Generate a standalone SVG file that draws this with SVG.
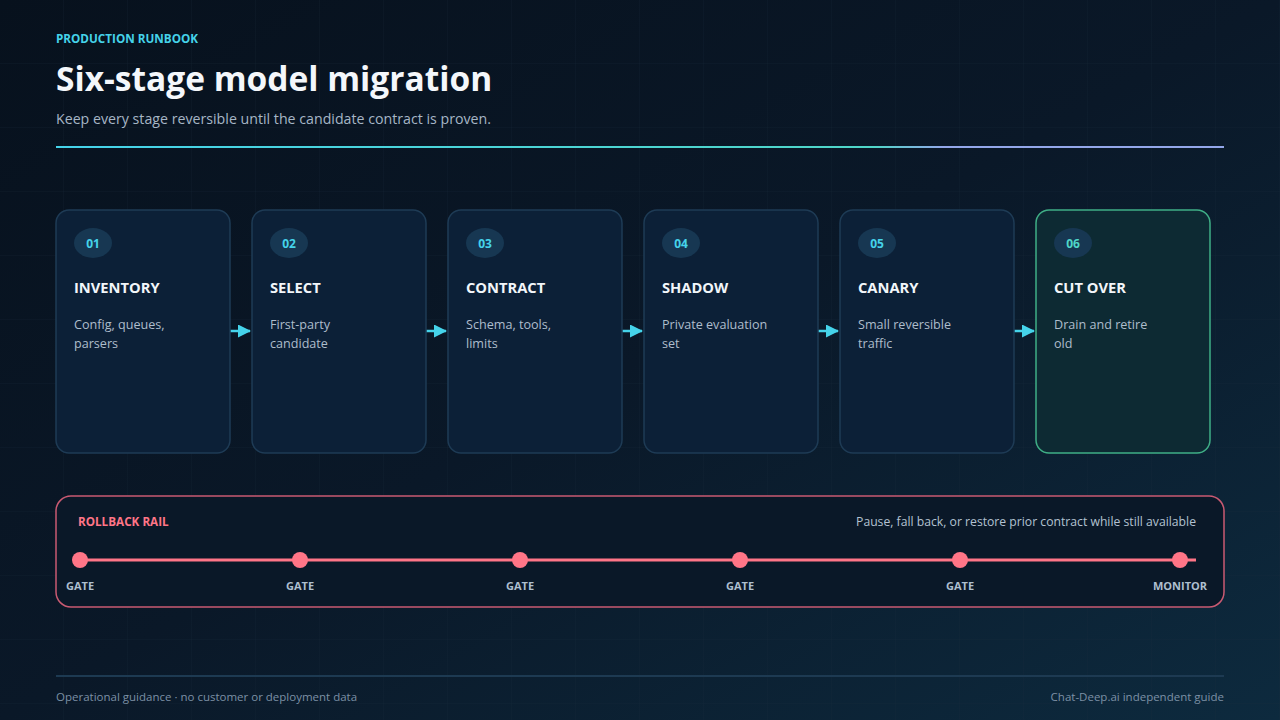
<svg xmlns="http://www.w3.org/2000/svg" width="1280" height="720" viewBox="0 0 1280 720">
<defs>
<linearGradient id="bg" x1="0" y1="0" x2="1" y2="1">
<stop offset="0" stop-color="#07111d"/>
<stop offset="0.5" stop-color="#0a1828"/>
<stop offset="1" stop-color="#0d2a3e"/>
</linearGradient>
<linearGradient id="rule" x1="56" y1="0" x2="1224" y2="0" gradientUnits="userSpaceOnUse">
<stop offset="0" stop-color="#45d3ea"/>
<stop offset="0.7" stop-color="#4fd6c8"/>
<stop offset="0.76" stop-color="#93a7ea"/>
<stop offset="1" stop-color="#93a7ea"/>
</linearGradient>
<pattern id="grid" width="64" height="64" patternUnits="userSpaceOnUse">
<path d="M64 0V64M0 64H64" fill="none" stroke="#1a2d40" stroke-width="1" opacity="0.35"/>
</pattern>
<marker id="arr" viewBox="0 0 13 13" refX="12" refY="6.5" markerWidth="13" markerHeight="13" markerUnits="userSpaceOnUse" orient="auto">
<path d="M0 0L13 6.5L0 13Z" fill="#45d3ea"/>
</marker>
<style>
.sans{font-family:"Open Sans","Noto Sans","Liberation Sans",sans-serif}
.card{fill:#0c2037;stroke:#1e3b55;stroke-width:1.5}
.card.last{fill:#0d2a33;stroke:#3fae86}
.badge{fill:#173752}
.num{font-size:12px;font-weight:700;fill:#45d3ea}
.ttl{font-size:14.7px;font-weight:700;fill:#f2f6fa}
.desc{font-size:12.6px;fill:#aebdcc}
.conn{stroke:#45d3ea;stroke-width:2.5;fill:none}
.gate{fill:#ff7587}
.glab{font-size:11px;font-weight:700;fill:#aebfcf}
</style>
</defs>
<rect width="1280" height="720" fill="url(#bg)"/>
<rect width="1280" height="720" fill="url(#grid)"/>

<g id="header" class="sans">
<text x="56" y="43" font-size="11.7" font-weight="700" fill="#45d3ea">PRODUCTION RUNBOOK</text>
<text x="56" y="91" font-size="33.5" font-weight="700" fill="#f4f7fb">Six-stage model migration</text>
<text x="56" y="124" font-size="14.2" fill="#a6b6c6">Keep every stage reversible until the candidate contract is proven.</text>
<rect x="56" y="146" width="1168" height="2" fill="url(#rule)"/>
</g>

<g id="connectors">
<line class="conn" x1="230" y1="331" x2="250" y2="331" marker-end="url(#arr)"/>
<line class="conn" x1="426" y1="331" x2="446" y2="331" marker-end="url(#arr)"/>
<line class="conn" x1="622" y1="331" x2="642" y2="331" marker-end="url(#arr)"/>
<line class="conn" x1="818" y1="331" x2="838" y2="331" marker-end="url(#arr)"/>
<line class="conn" x1="1014" y1="331" x2="1034" y2="331" marker-end="url(#arr)"/>
</g>

<g id="stage1" class="sans">
<rect class="card" x="56" y="210" width="174" height="243" rx="13"/>
<ellipse class="badge" cx="93" cy="243" rx="19" ry="15"/>
<text class="num" x="93" y="247.5" text-anchor="middle">01</text>
<text class="ttl" x="74" y="293">INVENTORY</text>
<text class="desc" x="74" y="329">Config, queues,</text>
<text class="desc" x="74" y="348">parsers</text>
</g>
<g id="stage2" class="sans">
<rect class="card" x="252" y="210" width="174" height="243" rx="13"/>
<ellipse class="badge" cx="289" cy="243" rx="19" ry="15"/>
<text class="num" x="289" y="247.5" text-anchor="middle">02</text>
<text class="ttl" x="270" y="293">SELECT</text>
<text class="desc" x="270" y="329">First-party</text>
<text class="desc" x="270" y="348">candidate</text>
</g>
<g id="stage3" class="sans">
<rect class="card" x="448" y="210" width="174" height="243" rx="13"/>
<ellipse class="badge" cx="485" cy="243" rx="19" ry="15"/>
<text class="num" x="485" y="247.5" text-anchor="middle">03</text>
<text class="ttl" x="466" y="293">CONTRACT</text>
<text class="desc" x="466" y="329">Schema, tools,</text>
<text class="desc" x="466" y="348">limits</text>
</g>
<g id="stage4" class="sans">
<rect class="card" x="644" y="210" width="174" height="243" rx="13"/>
<ellipse class="badge" cx="681" cy="243" rx="19" ry="15"/>
<text class="num" x="681" y="247.5" text-anchor="middle">04</text>
<text class="ttl" x="662" y="293">SHADOW</text>
<text class="desc" x="662" y="329">Private evaluation</text>
<text class="desc" x="662" y="348">set</text>
</g>
<g id="stage5" class="sans">
<rect class="card" x="840" y="210" width="174" height="243" rx="13"/>
<ellipse class="badge" cx="877" cy="243" rx="19" ry="15"/>
<text class="num" x="877" y="247.5" text-anchor="middle">05</text>
<text class="ttl" x="858" y="293">CANARY</text>
<text class="desc" x="858" y="329">Small reversible</text>
<text class="desc" x="858" y="348">traffic</text>
</g>
<g id="stage6" class="sans">
<rect class="card last" x="1036" y="210" width="174" height="243" rx="13"/>
<ellipse class="badge" cx="1073" cy="243" rx="19" ry="15"/>
<text class="num" x="1073" y="247.5" text-anchor="middle" style="fill:#4fd6c8">06</text>
<text class="ttl" x="1054" y="293">CUT OVER</text>
<text class="desc" x="1054" y="329">Drain and retire</text>
<text class="desc" x="1054" y="348">old</text>
</g>

<g id="rollback" class="sans">
<rect x="56" y="496" width="1168" height="111" rx="15" fill="#0a1828" stroke="#c95a72" stroke-width="1.5"/>
<text x="78" y="526" font-size="11.7" font-weight="700" fill="#ff7587">ROLLBACK RAIL</text>
<text x="1196" y="526" font-size="12.2" fill="#b3c2d1" text-anchor="end">Pause, fall back, or restore prior contract while still available</text>
<line x1="80" y1="560" x2="1196" y2="560" stroke="#ff7587" stroke-width="3"/>
<circle class="gate" cx="80" cy="560" r="8"/>
<circle class="gate" cx="300" cy="560" r="8"/>
<circle class="gate" cx="520" cy="560" r="8"/>
<circle class="gate" cx="740" cy="560" r="8"/>
<circle class="gate" cx="960" cy="560" r="8"/>
<circle class="gate" cx="1180" cy="560" r="8"/>
<text class="glab" x="80" y="590" text-anchor="middle">GATE</text>
<text class="glab" x="300" y="590" text-anchor="middle">GATE</text>
<text class="glab" x="520" y="590" text-anchor="middle">GATE</text>
<text class="glab" x="740" y="590" text-anchor="middle">GATE</text>
<text class="glab" x="960" y="590" text-anchor="middle">GATE</text>
<text class="glab" x="1180" y="590" text-anchor="middle">MONITOR</text>
</g>

<g id="footer" class="sans">
<rect x="56" y="675" width="1168" height="2" fill="#1d3a52"/>
<text x="56" y="701" font-size="11.5" fill="#7c90a5">Operational guidance · no customer or deployment data</text>
<text x="1224" y="701" font-size="11.5" fill="#7c90a5" text-anchor="end">Chat-Deep.ai independent guide</text>
</g>
</svg>
